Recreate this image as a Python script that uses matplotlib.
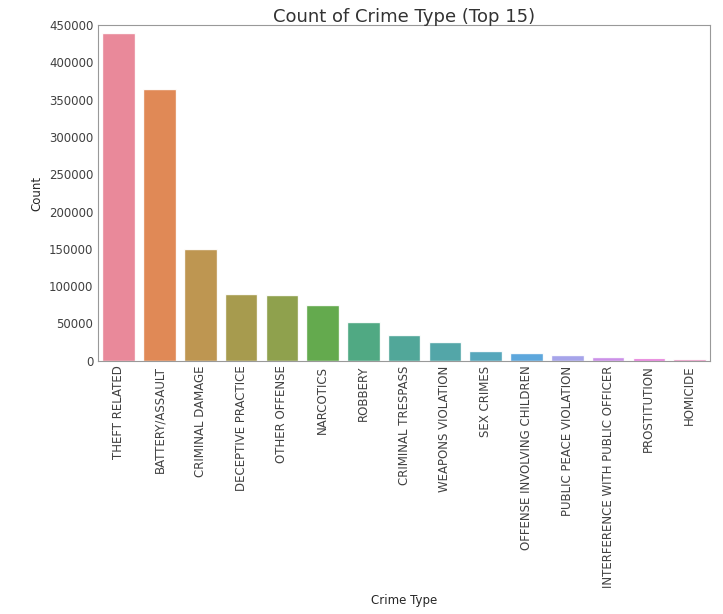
import matplotlib
matplotlib.use('Agg')
import matplotlib.pyplot as plt
import seaborn as sns

crime_types = ['THEFT RELATED', 'BATTERY/ASSAULT', 'CRIMINAL DAMAGE', 'DECEPTIVE PRACTICE',
               'OTHER OFFENSE', 'NARCOTICS', 'ROBBERY', 'CRIMINAL TRESPASS',
               'WEAPONS VIOLATION', 'SEX CRIMES', 'OFFENSE INVOLVING CHILDREN',
               'PUBLIC PEACE VIOLATION', 'INTERFERENCE WITH PUBLIC OFFICER',
               'PROSTITUTION', 'HOMICIDE']
counts = [440000, 364100, 149600, 89300, 88000, 74600, 52200, 33900,
          24500, 12500, 10700, 7600, 5400, 3600, 2300]

sns.set_style('white')
plt.rcParams['font.family'] = ['DejaVu Sans']

fig = plt.figure(figsize=(7.23, 6.14), dpi=100)
ax = fig.add_axes([0.136, 0.4125, 0.846, 0.5465])

sns.barplot(x=crime_types, y=counts, hue=crime_types, palette='husl', legend=False,
            saturation=0.78, alpha=0.92, edgecolor='white', linewidth=1, ax=ax)

ax.set_ylim(0, 450000)
ax.set_yticks(range(0, 450001, 50000))
ax.set_title('Count of Crime Type (Top 15)', fontsize=13, color='.2', pad=2)
ax.set_xlabel('Crime Type', fontsize=8.5, color='.15')
ax.set_ylabel('Count', fontsize=8.5, color='.15')
ax.tick_params(axis='both', labelsize=8.5, colors='.25', length=0)
plt.setp(ax.get_xticklabels(), rotation=90)
for s in ax.spines.values():
    s.set_color('.6')

fig.savefig('out.png', dpi=100)
